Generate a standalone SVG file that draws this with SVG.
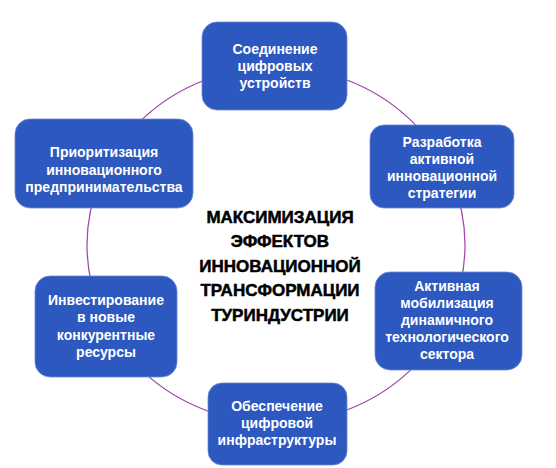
<svg xmlns="http://www.w3.org/2000/svg" width="556" height="468" viewBox="0 0 556 468">
<style>
.box{fill:#2C58C0;stroke:#6C8AD6;stroke-width:0.8}
.lbl{font-family:"Liberation Sans",Arial,sans-serif;font-weight:bold;font-size:14px;fill:#ffffff;text-anchor:middle}
.ctr{font-family:"Liberation Sans",Arial,sans-serif;font-weight:bold;font-size:17px;fill:#000000;stroke:#000;stroke-width:0.5;text-anchor:middle}
.ring{fill:none;stroke:#A040A8;stroke-width:1.2}
</style>
<rect width="556" height="468" fill="#ffffff"/>
<g id="connectors">
<ellipse class="ring" cx="276" cy="245" rx="189" ry="178"/>
</g>
<g id="center">
<text class="ctr" x="280" y="223">МАКСИМИЗАЦИЯ</text>
<text class="ctr" x="280" y="247">ЭФФЕКТОВ</text>
<text class="ctr" x="280" y="272">ИННОВАЦИОННОЙ</text>
<text class="ctr" x="280" y="296">ТРАНСФОРМАЦИИ</text>
<text class="ctr" x="280" y="321">ТУРИНДУСТРИИ</text>
</g>
<g id="n1">
<rect class="box" x="202" y="22" width="145" height="88" rx="15"/>
<text class="lbl" x="275" y="54">Соединение</text>
<text class="lbl" x="275" y="71">цифровых</text>
<text class="lbl" x="275" y="88">устройств</text>
</g>
<g id="n2">
<rect class="box" x="370" y="125" width="144" height="83" rx="14"/>
<text class="lbl" x="442" y="147">Разработка</text>
<text class="lbl" x="442" y="164">активной</text>
<text class="lbl" x="442" y="181">инновационной</text>
<text class="lbl" x="442" y="198">стратегии</text>
</g>
<g id="n3">
<rect class="box" x="375" y="272" width="147" height="98" rx="15"/>
<text class="lbl" x="447" y="291">Активная</text>
<text class="lbl" x="447" y="308">мобилизация</text>
<text class="lbl" x="447" y="325">динамичного</text>
<text class="lbl" x="447" y="342">технологического</text>
<text class="lbl" x="447" y="359">сектора</text>
</g>
<g id="n4">
<rect class="box" x="208" y="383" width="139" height="82" rx="14"/>
<text class="lbl" x="277" y="411">Обеспечение</text>
<text class="lbl" x="277" y="428">цифровой</text>
<text class="lbl" x="277" y="445">инфраструктуры</text>
</g>
<g id="n5">
<rect class="box" x="35" y="276" width="142" height="101" rx="15"/>
<text class="lbl" x="106" y="305">Инвестирование</text>
<text class="lbl" x="106" y="322">в новые</text>
<text class="lbl" x="106" y="340">конкурентные</text>
<text class="lbl" x="106" y="357">ресурсы</text>
</g>
<g id="n6">
<rect class="box" x="15" y="119" width="178" height="89" rx="15"/>
<text class="lbl" x="104" y="157">Приоритизация</text>
<text class="lbl" x="104" y="175">инновационного</text>
<text class="lbl" x="104" y="192">предпринимательства</text>
</g>
</svg>
